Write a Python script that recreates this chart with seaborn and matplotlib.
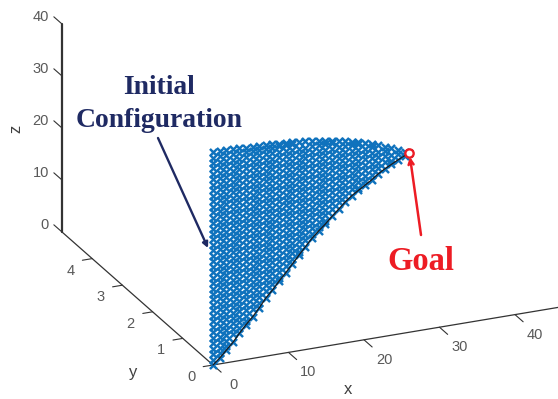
import matplotlib
matplotlib.use("Agg")
import matplotlib.pyplot as plt
import numpy as np
import pandas as pd
import seaborn as sns

sns.set_theme(style="white")
plt.rcParams['font.family'] = ['Liberation Sans', 'DejaVu Sans']

# sheet of points: for each x column the lower and upper z
x_cols = [0, 0.875, 1.75, 2.625, 3.5, 4.375, 5.25, 6.125, 7, 7.875, 8.75, 9.625, 10.5, 11.375, 12.25, 13.125,
          14, 14.875, 15.75, 16.625, 17.5, 18.375, 19.25, 20.125, 21, 21.875, 22.75, 23.625, 24.5, 25.375, 26]
z_bottom = [0, 1.1, 2.4, 3.7, 5.25, 6.7, 8, 9.5, 11.2, 12.5, 14, 15.4, 16.85, 18.35, 19.8, 21.2,
            22.4, 23.5, 24.75, 25.9, 27.1, 28.1, 28.9, 29.7, 30.5, 31.45, 32.2, 32.85, 33.5, 34.1, 34.5]
z_top = [41, 41, 40.9, 40.9, 40.8, 40.75, 40.7, 40.65, 40.6, 40.5, 40.4, 40.35, 40.25, 40.15, 40.05, 39.9,
         39.7, 39.5, 39.25, 39, 38.75, 38.45, 38.2, 37.85, 37.4, 36.95, 36.45, 35.95, 35.4, 34.9, 34.5]
goal = (26, 0, 34.5)

x_ticks = [0, 10, 20, 30, 40]
y_ticks = [0, 1, 2, 3, 4]
z_ticks = [0, 10, 20, 30, 40]


# the oblique view of the 3d axes, in pixels of the image
def project(x, y, z):
    x, y, z = np.broadcast_arrays(np.asarray(x, float), np.asarray(y, float), np.asarray(z, float))
    return 213 + 7.55 * x - 30.2 * y, 365 - 1.26 * x - 26.6 * y - 5.2 * z


rows = []
for x, lo, hi in zip(x_cols, z_bottom, z_top):
    levels = [lo] + [z for z in np.arange(0, 42, 1.05) if lo + 0.5 < z < hi - 0.3] + [hi]
    for z in levels:
        rows.append((x, 0, z))
sheet = pd.DataFrame(rows, columns=["x", "y", "z"])
sheet["sx"], sheet["sy"] = project(sheet.x, sheet.y, sheet.z)

edge = pd.DataFrame({"x": x_cols, "z": z_bottom})
edge["sx"], edge["sy"] = project(edge.x, 0, edge.z)

fig = plt.figure(figsize=(5.58, 3.99), dpi=100)
ax = fig.add_axes([0, 0, 1, 1])
ax.set_xlim(0, 558)
ax.set_ylim(399, 0)
ax.axis("off")

# axis lines and ticks
axis_col = "#333333"
ax.plot(*project([0, 50], 0, 0), color=axis_col, lw=0.9)
ax.plot(*project(0, [0, 5], 0), color=axis_col, lw=0.9)
ax.plot(*project(0, 5, [0, 40]), color=axis_col, lw=1.6)

for t in x_ticks:
    ax.plot(*project(t, [0, -0.27], 0), color=axis_col, lw=0.8)
    px, py = project(t, 0, 0)
    ax.text(px + 20, py + 20, str(t), ha="center", va="center", fontsize=10.5, color="#595959")
for t in y_ticks:
    ax.plot(*project([0, -1.3], t, 0), color=axis_col, lw=0.8)
    px, py = project(0, t, 0)
    ax.text(px - 22, py + 12, str(t), ha="center", va="center", fontsize=10.5, color="#595959")
for t in z_ticks:
    ax.plot(*project(0, [5, 5.27], t), color=axis_col, lw=0.8)
    px, py = project(0, 5, t)
    ax.text(px - 13, py - 7, str(t), ha="right", va="center", fontsize=10.5, color="#595959")

ax.text(348, 390, "x", ha="center", va="center", fontsize=12, color="#404040")
ax.text(133, 372, "y", ha="center", va="center", fontsize=12, color="#404040")
ax.text(16, 129, "z", ha="center", va="center", fontsize=12, color="#404040", rotation=90)

sns.scatterplot(data=sheet, x="sx", y="sy", marker="x", s=26, color="#0f72bd",
                linewidth=1.75, ax=ax, legend=False, zorder=3)
sns.lineplot(data=edge, x="sx", y="sy", sort=False, estimator=None, color="#1a1a1a",
             lw=0.9, ax=ax, legend=False, zorder=4)

gx, gy = project(*goal)
sns.scatterplot(x=[float(gx)], y=[float(gy)], marker="o", s=36, facecolor="white",
                edgecolor="#ed1c24", linewidth=1.7, ax=ax, legend=False, zorder=5)

# callouts
navy = "#1f2a63"
red = "#ed1c24"
ax.text(159, 104, "Initial\nConfiguration", ha="center", va="center", fontsize=19.9,
        fontweight="bold", family="Liberation Serif", color=navy, linespacing=1.39)
ax.annotate("", xy=(208, 248), xytext=(158, 138),
            arrowprops=dict(arrowstyle="-|>", color=navy, lw=1.7, mutation_scale=8,
                            shrinkA=0, shrinkB=0))
ax.text(421, 261, "Goal", ha="center", va="center", fontsize=23.5,
        fontweight="bold", family="Liberation Serif", color=red)
ax.annotate("", xy=(410, 157), xytext=(421, 235),
            arrowprops=dict(arrowstyle="->", color=red, lw=1.8, mutation_scale=9,
                            shrinkA=0, shrinkB=0))

fig.savefig("out.png", dpi=100)
